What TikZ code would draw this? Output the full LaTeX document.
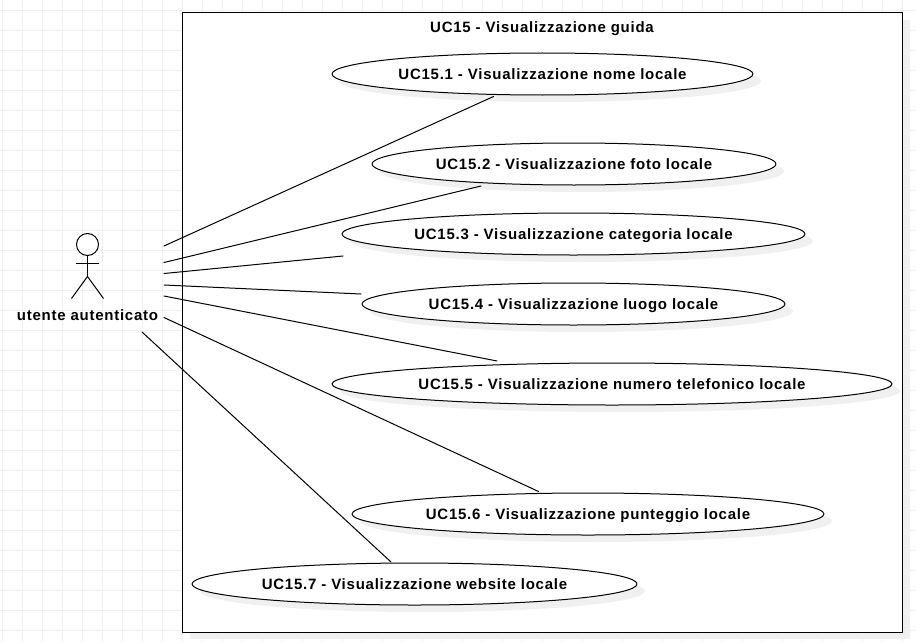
\documentclass[tikz,border=0pt]{standalone}
\usepackage{fontspec}
\setmainfont[LetterSpace=5]{Liberation Sans}
\usetikzlibrary{calc,shapes.geometric,shadows}

\begin{document}
\begin{tikzpicture}[x=0.75pt,y=-0.75pt, line cap=round, line join=round,
                    every node/.style={outer sep=0pt}]

  \tikzset{
    softshadow/.style={drop shadow={shadow xshift=6pt, shadow yshift=-5.25pt, fill=black!6, opacity=1}},
    frame/.style={draw=black, fill=white, line width=0.75pt, minimum width=540pt, minimum height=464.5pt, softshadow},
    usecase/.style={ellipse, draw=black, fill=white, line width=0.75pt, minimum height=31.5pt, inner sep=0pt, softshadow},
    tag/.style={font=\fontsize{11.25}{13}\selectfont\bfseries, inner sep=0pt, text height=8pt, text depth=0.2pt},
    edge/.style={line width=0.75pt, draw=black},
    stick/.style={line width=0.75pt, draw=black, line cap=butt}
  }

  \path[use as bounding box, fill=white] (0,0) rectangle (916,642);

  % Grid
  \foreach \x in {2.5,22.5,...,902.5} \draw[black!6, line width=0.75pt, line cap=butt] (\x,0) -- (\x,642);
  \foreach \y in {10.5,30.5,...,630.5} \draw[black!6, line width=0.75pt, line cap=butt] (0,\y) -- (916,\y);

  % System frame
  \node[frame] (system) at (542,322.5) {};
  \node[tag] (title) at (542,27.5) {UC15 - Visualizzazione guida};

  % Use cases
  \node[usecase, minimum width=315.75pt, tag] (uc1) at (542.5,74) {UC15.1 - Visualizzazione nome locale};
  \node[usecase, minimum width=303pt, tag] (uc2) at (574,164) {UC15.2 - Visualizzazione foto locale};
  \node[usecase, minimum width=347.25pt, tag] (uc3) at (573.5,234) {UC15.3 - Visualizzazione categoria locale};
  \node[usecase, minimum width=317.25pt, tag] (uc4) at (573.5,304) {UC15.4 - Visualizzazione luogo locale};
  \node[usecase, minimum width=420pt, tag] (uc5) at (612,384) {UC15.5 - Visualizzazione numero telefonico locale};
  \node[usecase, minimum width=354pt, tag] (uc6) at (588,514) {UC15.6 - Visualizzazione punteggio locale};
  \node[usecase, minimum width=333.75pt, tag] (uc7) at (414.5,584) {UC15.7 - Visualizzazione website locale};

  % Actor
  \node[circle, draw=black, fill=white, line width=0.75pt, minimum size=16.5pt, inner sep=0pt] (head) at (87.5,244.5) {};
  \coordinate (hip) at (87.5,276.5);
  \coordinate (armL) at (76,263.5);
  \coordinate (armR) at (99,263.5);
  \coordinate (footL) at (71.5,298.5);
  \coordinate (footR) at (103.5,298.5);
  \draw[stick] (head.south) -- (hip);
  \draw[stick] (armL) -- (armR);
  \draw[stick] (footL) -- (hip) -- (footR);
  \node[tag] (actor) at (87.5,315.5) {utente autenticato};

  % Associations
  \coordinate (a1) at (164,246);
  \coordinate (a2) at (164,262.5);
  \coordinate (a3) at (164,273.5);
  \coordinate (a4) at (164,285);
  \coordinate (a5) at (164,296);
  \coordinate (a6) at (164,317.5);
  \coordinate (a7) at (142,332);
  \coordinate (e1) at ($(uc1)+(-49,22.5)$);
  \coordinate (e2) at ($(uc2)+(-93,22)$);
  \coordinate (e3) at ($(uc3)+(-230.5,22)$);
  \coordinate (e4) at ($(uc4)+(-212.5,-10)$);
  \coordinate (e5) at ($(uc5)+(-115,-23)$);
  \coordinate (e6) at ($(uc6)+(-49.5,-22.5)$);
  \coordinate (e7) at ($(uc7)+(-23.5,-22)$);
  \foreach \i in {1,...,7} \draw[edge] (a\i) -- (e\i);
\end{tikzpicture}
\end{document}
